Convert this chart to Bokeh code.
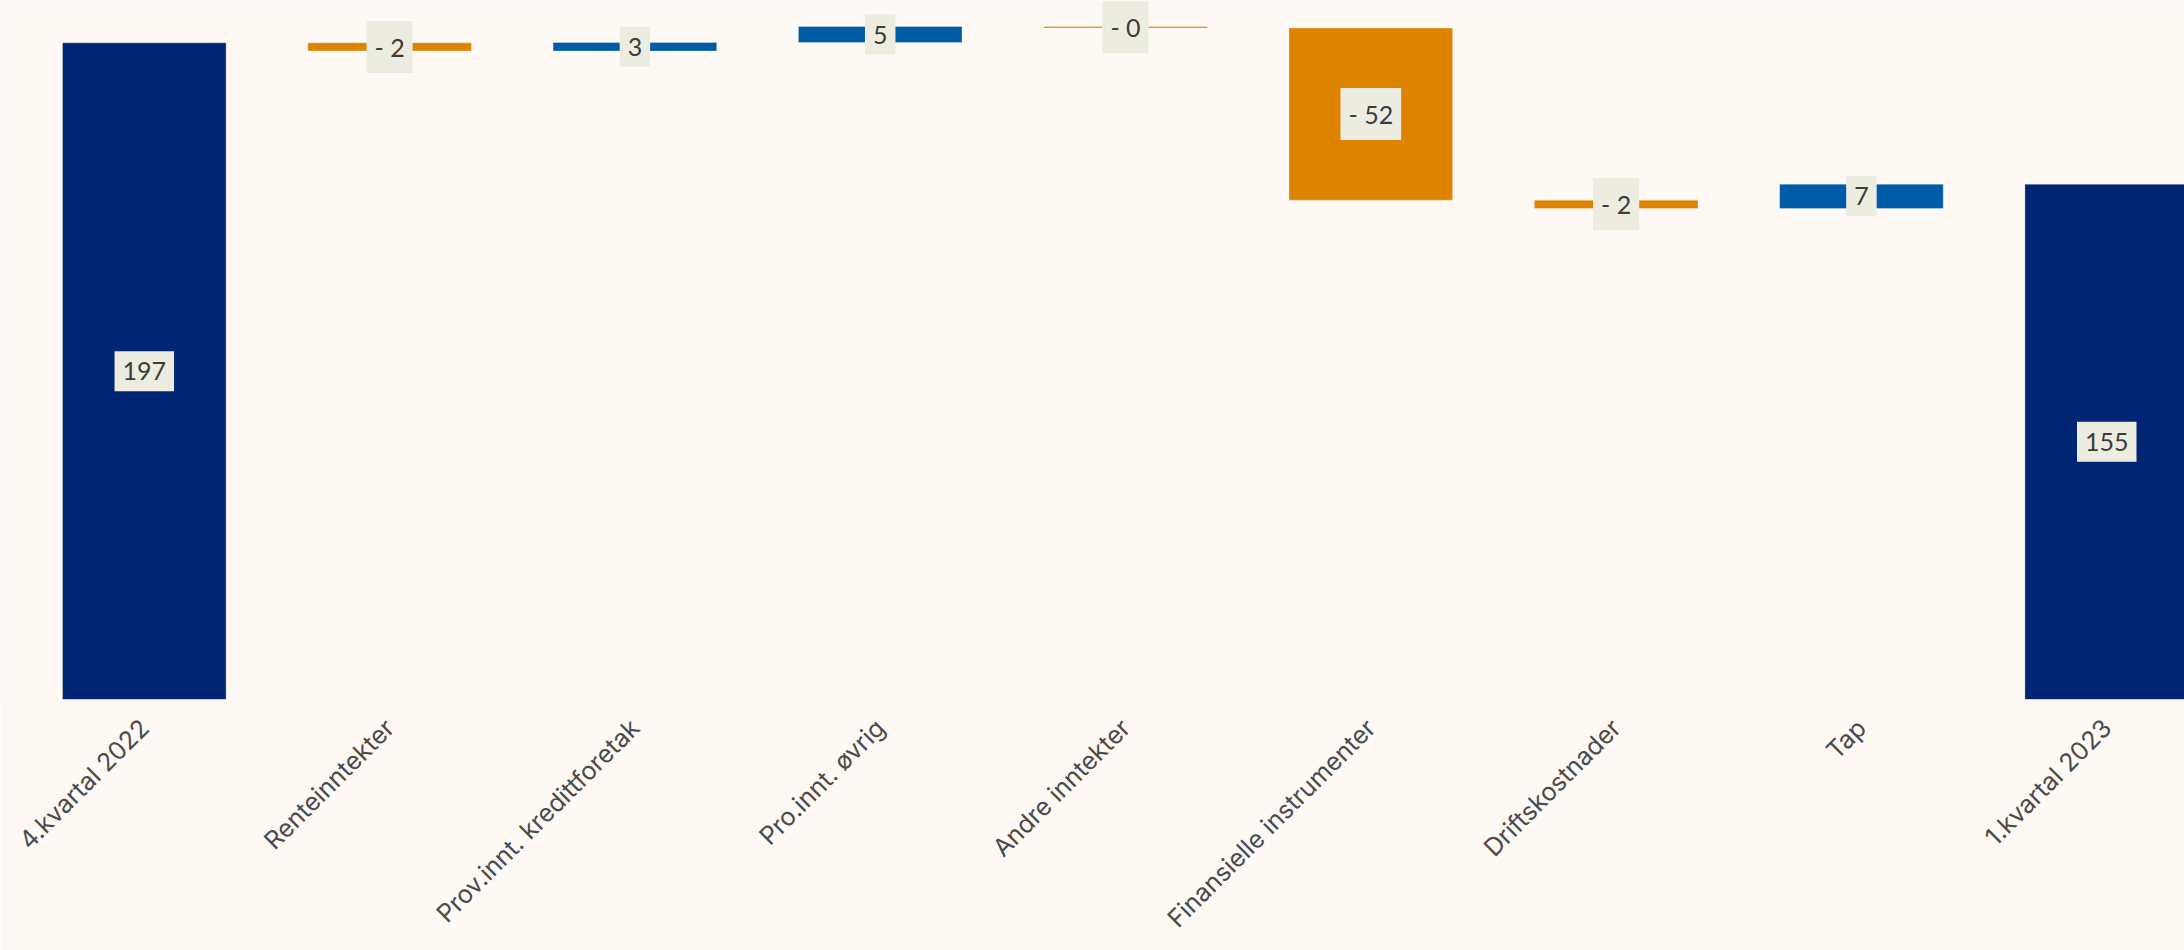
from bokeh.plotting import figure
from bokeh.models import ColumnDataSource, Range1d, FixedTicker
from bokeh.core.properties import value
from bokeh.embed import file_html
from bokeh.resources import INLINE
import math

# ---- data ----
categories = ["4.kvartal 2022", "Renteinntekter", "Prov.innt. kredittforetak",
              "Pro.innt. øvrig", "Andre inntekter", "Finansielle instrumenter",
              "Driftskostnader", "Tap", "1.kvartal 2023"]
start_value = 197.0
deltas = [-2.45, 2.55, 4.8, -0.45, -51.65, -2.5, 7.3]
end_value = 154.6

# ---- styling ----
BG = "#FEF9F5"
NAVY = "#002673"
BLUE = "#005BA6"
ORANGE = "#DE8300"
BOX = "#EDECE1"
TXT = "#3C3C3C"

def fmt(v):
    r = abs(round(v))
    return ("- %d" % r) if v < 0 else ("%d" % r)

xs, bottoms, tops, colors, labels = [], [], [], [], []
xs.append(0); bottoms.append(0); tops.append(start_value); colors.append(NAVY); labels.append(fmt(start_value))
level = start_value
for i, d in enumerate(deltas):
    new = level + d
    xs.append(i + 1)
    bottoms.append(min(level, new)); tops.append(max(level, new))
    colors.append(BLUE if d >= 0 else ORANGE)
    labels.append(fmt(d))
    level = new
xs.append(len(categories) - 1); bottoms.append(0); tops.append(end_value); colors.append(NAVY); labels.append(fmt(end_value))
mids = [(b + t) / 2 for b, t in zip(bottoms, tops)]

src = ColumnDataSource(dict(x=xs, bottom=bottoms, top=tops, color=colors, label=labels, mid=mids))

p = figure(width=2184, height=950, output_backend="svg", toolbar_location=None,
           x_range=Range1d(-0.5862, 8.317), y_range=Range1d(0, 209.7),
           min_border_left=0, min_border_right=0, min_border_top=0, min_border_bottom=251)
p.background_fill_color = BG
p.border_fill_color = BG
p.outline_line_color = None
p.grid.visible = False
p.yaxis.visible = False

p.vbar(x="x", bottom="bottom", top="top", width=0.667, fill_color="color",
       line_color="white", line_alpha=0.3, line_width=1, source=src)

p.text(x="x", y="mid", text="label", source=src, text_align="center", text_baseline="middle",
       text_font=value("Lato"), text_font_size="25px", text_color=TXT,
       background_fill_color=BOX, padding=dict(left=8, right=8, top=11, bottom=11))

ax = p.xaxis[0]
ax.ticker = FixedTicker(ticks=list(range(len(categories))))
ax.major_label_overrides = {i: c for i, c in enumerate(categories)}
ax.major_label_orientation = math.pi / 4
ax.major_label_text_font = "Inter"
ax.major_label_text_font_size = "25px"
ax.major_label_text_color = "#4A4A4A"
ax.axis_line_color = None
ax.major_tick_line_color = None
ax.minor_tick_line_color = None
ax.major_tick_out = 0
ax.major_tick_in = 0
ax.major_label_standoff = 24

open("out.html", "w").write(file_html(p, INLINE))
